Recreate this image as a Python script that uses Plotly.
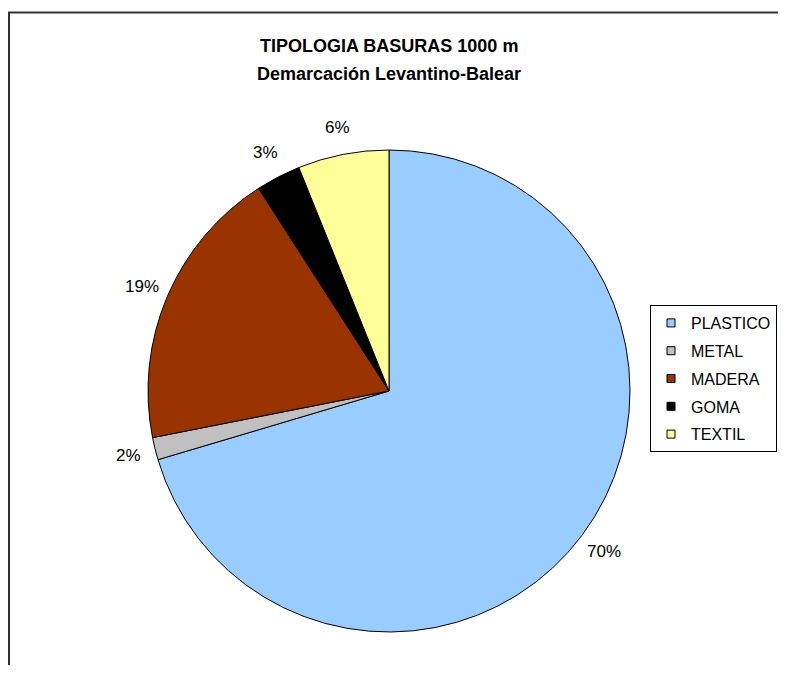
import math
import plotly.graph_objects as go

categories = ["PLASTICO", "METAL", "MADERA", "GOMA", "TEXTIL"]
values = [70.4, 1.5, 19.0, 3.0, 6.1]
colors = ["#99CCFF", "#C0C0C0", "#993300", "#000000", "#FFFF99"]
title_lines = ["TIPOLOGIA BASURAS 1000 m", "Demarcación Levantino-Balear"]

OFF = 8  # page body margin of the browser
W, H = 786 - 2 * OFF, 673 - 2 * OFF


def px(sx):
    return (sx - OFF) / W


def py(sy):
    return 1 - (sy - OFF) / H


cx, cy, r = 389, 391, 241
label_r = 268
FONT = "Liberation Sans, Arial"

fig = go.Figure()
fig.add_trace(go.Pie(
    labels=categories, values=values, sort=False, direction="clockwise", rotation=0,
    marker=dict(colors=colors, line=dict(color="#000000", width=1)),
    textinfo="none", showlegend=False, hoverinfo="label+percent",
    domain=dict(x=[px(cx - r), px(cx + r)], y=[py(cy + r), py(cy - r)]),
))
for i, (c, col) in enumerate(zip(categories, colors)):
    fig.add_trace(go.Scatter(
        x=[None], y=[None], mode="markers", name=c, legendgroup=f"g{i}",
        marker=dict(symbol="square", size=8, color=col, line=dict(color="#000000", width=1)),
        showlegend=True,
    ))

# percentage labels placed along each slice's mid-angle
total = sum(values)
annotations = []
cum = 0.0
for v in values:
    mid = (cum + v / 2) / total * 2 * math.pi
    cum += v
    sx = cx + label_r * math.sin(mid)
    sy = cy - label_r * math.cos(mid)
    annotations.append(dict(
        x=px(sx), y=py(sy), xref="paper", yref="paper",
        text=f"{round(v / total * 100)}%", showarrow=False,
        xanchor="center", yanchor="middle",
        font=dict(family=FONT, size=17, color="#000000"),
    ))

# title lines
for txt, sy in zip(title_lines, [46, 74]):
    annotations.append(dict(
        x=px(cx), y=py(sy), xref="paper", yref="paper",
        text="<b>" + txt + "</b>", showarrow=False,
        xanchor="center", yanchor="middle",
        font=dict(family=FONT, size=18, color="#000000"),
    ))

fig.update_layout(
    width=W, height=H, margin=dict(l=0, r=0, t=0, b=0, autoexpand=False),
    paper_bgcolor="white", plot_bgcolor="white",
    xaxis=dict(visible=False), yaxis=dict(visible=False),
    legend=dict(x=px(777), y=py(305), xanchor="right", yanchor="top",
                bgcolor="white", bordercolor="#000000", borderwidth=1,
                font=dict(family=FONT, size=16, color="#000000"),
                tracegroupgap=4, itemwidth=30, itemclick=False),
    annotations=annotations,
    shapes=[dict(type="rect", xref="paper", yref="paper",
                 x0=px(9), x1=1.02, y0=-0.02, y1=py(12.5),
                 line=dict(color="#333333", width=2))],
)
fig.write_html("out.html")
